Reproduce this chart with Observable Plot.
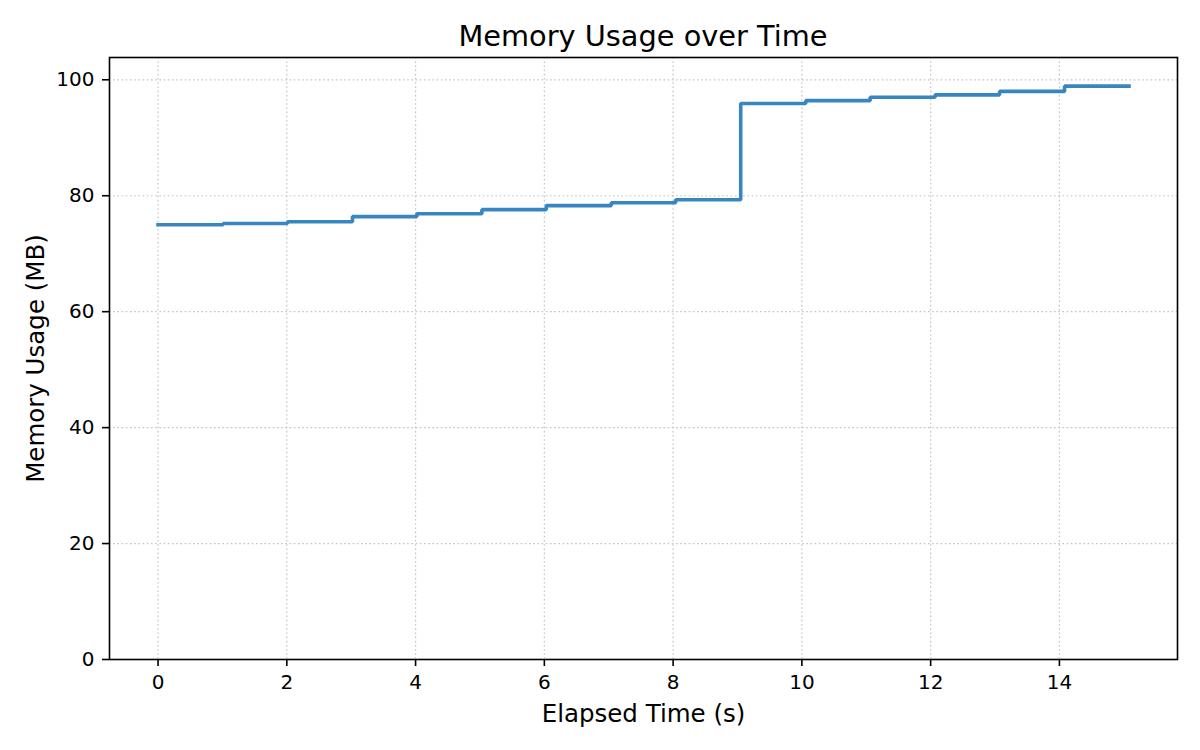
<!DOCTYPE html>
<html>
<head>
<meta charset="utf-8">
<script src="https://cdn.jsdelivr.net/npm/d3@7"></script>
<script src="https://cdn.jsdelivr.net/npm/@observablehq/plot@0.6"></script>
<style>
  html, body { margin: 0; padding: 0; background: white; }
  #wrap { width: 1200px; height: 750px; position: relative; font-family: "DejaVu Sans", sans-serif; }
  #title { box-sizing: border-box; width: 1200px; height: 50px; padding-left: 109px; padding-right: 23px; padding-top: 21.6px;
           font-size: 28.8px; line-height: 1; text-align: center; color: #000; white-space: nowrap; }
  #chart svg { display: block; }
</style>
</head>
<body>
<div id="wrap">
  <div id="title">Memory Usage over Time</div>
  <div id="chart"></div>
</div>
<script>
// Elapsed time stamps (s)
const times = [0, 1.01, 2.01, 3.02, 4.02, 5.03, 6.03, 7.04, 8.04, 9.05, 10.06, 11.06, 12.07, 13.07, 14.08, 15.08];
// Memory usage (MB)
const memory = [75.0, 75.2, 75.5, 76.4, 76.9, 77.6, 78.3, 78.8, 79.3, 95.9, 96.4, 97.0, 97.4, 98.0, 98.9, 98.9];
// Tick labels
const xTicks = [0, 2, 4, 6, 8, 10, 12, 14];
const yTicks = [0, 20, 40, 60, 80, 100];

const data = times.map((t, i) => ({t, m: memory[i]}));

const xMin = d3.min(times), xMax = d3.max(times);
const xPad = (xMax - xMin) * 0.05;
const yMax = d3.max(memory);
const yPad = yMax * 0.05;

const plot = Plot.plot({
  width: 1200,
  height: 700,
  marginTop: 7,
  marginBottom: 91,
  marginLeft: 109,
  marginRight: 23,
  style: {fontFamily: "DejaVu Sans", fontSize: "20px", color: "#000", background: "white"},
  x: {domain: [xMin - xPad, xMax + xPad]},
  y: {domain: [0, yMax + yPad]},
  marks: [
    Plot.gridX(xTicks, {stroke: "#c4c4c4", strokeOpacity: 1, strokeWidth: 1.2, strokeDasharray: "1.6,2.6"}),
    Plot.gridY(yTicks, {stroke: "#c4c4c4", strokeOpacity: 1, strokeWidth: 1.2, strokeDasharray: "1.6,2.6"}),
    Plot.line(data, {x: "t", y: "m", curve: "step-after", stroke: "#3886c0", strokeWidth: 3.6, strokeLinecap: "square", strokeLinejoin: "miter"}),
    Plot.frame({stroke: "#000", strokeWidth: 1.6}),
    Plot.axisX(xTicks, {label: null, tickSize: 7, tickPadding: 8, strokeWidth: 1.6, fontSize: 20}),
    Plot.axisY(yTicks, {label: null, tickSize: 7, tickPadding: 8, strokeWidth: 1.6, fontSize: 20}),
    Plot.text(["Elapsed Time (s)"], {frameAnchor: "bottom", dy: 62, lineAnchor: "bottom", textAnchor: "middle", fontSize: 24.5, fill: "#000"}),
    Plot.text(["Memory Usage (MB)"], {frameAnchor: "left", dx: -66, rotate: -90, lineAnchor: "bottom", textAnchor: "middle", fontSize: 24.5, fill: "#000"})
  ]
});
document.getElementById("chart").appendChild(plot);
</script>
</body>
</html>
